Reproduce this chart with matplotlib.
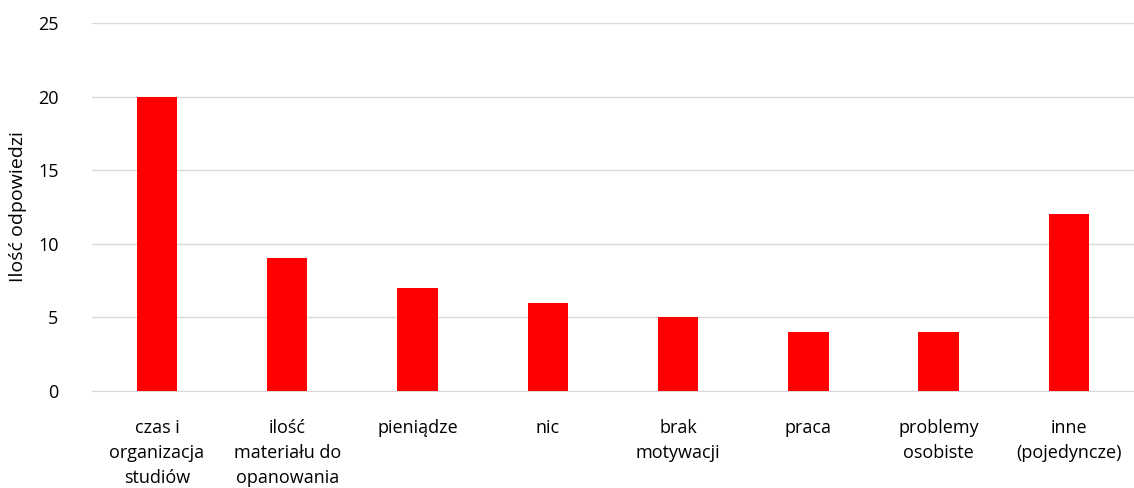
import matplotlib.pyplot as plt
import numpy as np

plt.rcParams['font.family'] = ['Open Sans', 'DejaVu Sans']

categories = ["czas i\norganizacja\nstudiów", "ilość\nmateriału do\nopanowania",
              "pieniądze", "nic", "brak\nmotywacji", "praca",
              "problemy\nosobiste", "inne\n(pojedyncze)"]
values = [20, 9, 7, 6, 5, 4, 4, 12]

fig = plt.figure(figsize=(11.34, 4.88), dpi=100)
ax = fig.add_axes([0.081, 0.199, 0.919, 0.754])

x = np.arange(len(categories))
ax.bar(x, values, width=0.31, color='#ff0000', zorder=3)

ax.set_xlim(-0.5, len(categories) - 0.5)
ax.set_ylim(0, 25)
ax.set_yticks(np.arange(0, 26, 5))
ax.set_xticks(x)
ax.set_xticklabels(categories, fontsize=13, color='#000000', linespacing=1.5)
ax.tick_params(axis='y', labelsize=13, length=0, pad=24)
ax.tick_params(axis='x', length=0, pad=20)
ax.grid(axis='y', color='#d9d9d9', linewidth=1, zorder=0)
for s in ['top', 'right', 'left']:
    ax.spines[s].set_visible(False)
ax.spines['bottom'].set_color('#d9d9d9')
ax.set_ylabel('Ilość odpowiedzi', fontsize=14, labelpad=8)

fig.savefig('out.png', dpi=100)
